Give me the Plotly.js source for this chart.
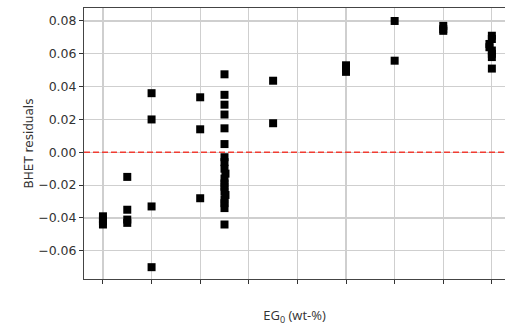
<!DOCTYPE html>
<html>
<head>
<meta charset="utf-8">
<script src="https://cdn.plot.ly/plotly-3.0.1.min.js"></script>
<style>html,body{margin:0;padding:0;background:#fff;}#chart{width:505px;height:326px;}</style>
</head>
<body>
<div id="chart"></div>
<script>
// EG0 group positions (tick index units) and residuals
const egPos = [
  0, 0, 0, 0,
  0.5, 0.5, 0.5, 0.5,
  1, 1, 1, 1,
  2, 2, 2,
  2.5, 2.5, 2.5, 2.5, 2.5, 2.5,
  2.5, 2.5, 2.5, 2.52, 2.5, 2.5, 2.5, 2.5, 2.52, 2.5, 2.5, 2.5, 2.5,
  3.5, 3.5,
  5, 5, 5,
  6, 6,
  7, 7, 7,
  8, 8, 7.95, 7.95, 8, 8, 8, 8
];
const bhetResiduals = [
  -0.039, -0.041, -0.042, -0.044,
  -0.015, -0.035, -0.041, -0.043,
  0.036, 0.020, -0.033, -0.070,
  0.0335, 0.014, -0.028,
  0.0475, 0.035, 0.029, 0.023, 0.0146, 0.005,
  -0.003, -0.006, -0.010, -0.013, -0.016, -0.019, -0.021, -0.024, -0.026, -0.029, -0.031, -0.034, -0.044,
  0.0436, 0.0177,
  0.053, 0.051, 0.049,
  0.080, 0.0558,
  0.077, 0.075, 0.074,
  0.071, 0.069, 0.066, 0.064, 0.062, 0.060, 0.058, 0.051
];
const xTickVals = [0, 1, 2, 3, 4, 5, 6, 7, 8];
const yTickVals = [-0.06, -0.04, -0.02, 0.00, 0.02, 0.04, 0.06, 0.08];
const yTickText = ['\u22120.06', '\u22120.04', '\u22120.02', '0.00', '0.02', '0.04', '0.06', '0.08'];
const zeroLine = 0;

const trace = {
  x: egPos, y: bhetResiduals, type: 'scatter', mode: 'markers',
  marker: {symbol: 'square', size: 8, color: '#000'},
  hoverinfo: 'skip'
};

const layout = {
  width: 505, height: 326,
  margin: {l: 84, r: 0, t: 8, b: 47},
  paper_bgcolor: '#fff', plot_bgcolor: '#fff',
  showlegend: false,
  font: {family: 'DejaVu Sans', size: 12, color: '#333'},
  xaxis: {
    range: [-0.39, 8.27], tickvals: xTickVals, showticklabels: false,
    ticks: 'outside', ticklen: 4, tickcolor: '#333', tickwidth: 1,
    showgrid: true, gridcolor: '#cfcfcf', gridwidth: 1.2,
    showline: true, linecolor: '#444', linewidth: 1, mirror: true,
    zeroline: false,
    title: {text: 'EG<sub>0</sub> (wt-%)', font: {family: 'Open Sans', size: 13, color: '#333'}, standoff: 28}
  },
  yaxis: {
    range: [-0.0772, 0.0879], tickvals: yTickVals, ticktext: yTickText,
    ticks: 'outside', ticklen: 4, tickcolor: '#333', tickwidth: 1,
    showgrid: true, gridcolor: '#cfcfcf', gridwidth: 1.2,
    showline: true, linecolor: '#444', linewidth: 1, mirror: false,
    zeroline: false, automargin: true,
    tickfont: {family: 'DejaVu Sans', size: 12.5, color: '#333'},
    title: {text: 'BHET residuals', font: {family: 'DejaVu Sans', size: 12, color: '#333'}, standoff: 1}
  },
  shapes: [{
    type: 'line', xref: 'paper', x0: 0, x1: 1, yref: 'y', y0: zeroLine, y1: zeroLine,
    line: {color: '#f03c32', width: 1.6, dash: '6px,3px'}
  }]
};

Plotly.newPlot('chart', [trace], layout, {displayModeBar: false, staticPlot: true});
</script>
</body>
</html>
